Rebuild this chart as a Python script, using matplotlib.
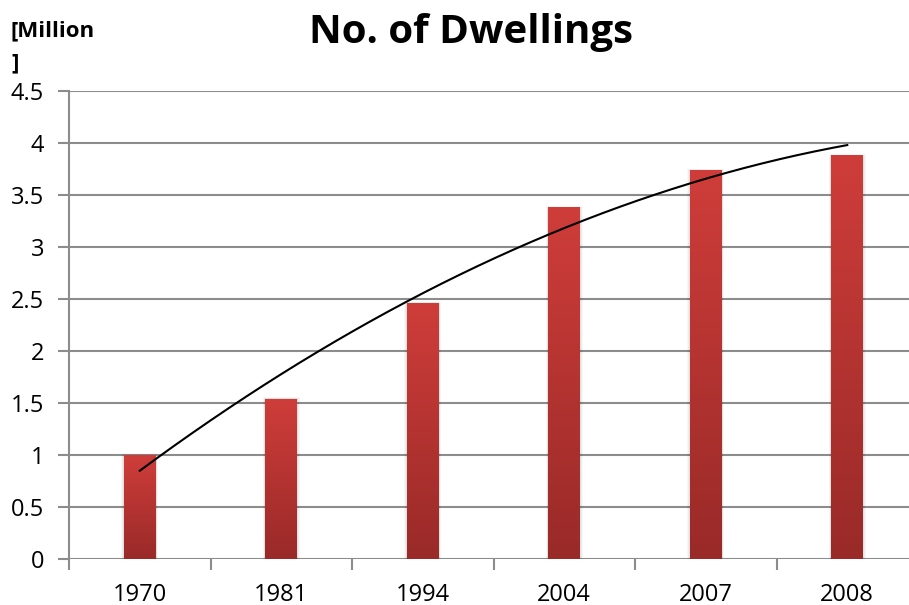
import numpy as np
import matplotlib
matplotlib.use("Agg")
import matplotlib.pyplot as plt
from matplotlib.colors import LinearSegmentedColormap
from matplotlib.patches import Rectangle

years = ["1970", "1981", "1994", "2004", "2007", "2008"]
dwellings = [1.0, 1.54, 2.46, 3.38, 3.74, 3.88]
y_ticks = [0, 0.5, 1, 1.5, 2, 2.5, 3, 3.5, 4, 4.5]
y_tick_labels = ["0", "0.5", "1", "1.5", "2", "2.5", "3", "3.5", "4", "4.5"]

plt.rcParams["font.family"] = ["Open Sans", "DejaVu Sans"]

W, H = 909, 605
fig = plt.figure(figsize=(W / 100, H / 100), dpi=100)
left, right, bottom, top = 69, 918, 559, 91
ax = fig.add_axes([left / W, 1 - bottom / H, (right - left) / W, (bottom - top) / H])

x = np.arange(len(years))
bar_w = 0.226
ax.set_xlim(-0.5, len(years) - 0.5)
ax.set_ylim(0, 4.5)

# gridlines
for t in y_ticks:
    ax.axhline(t, color="#8c8c8c", lw=1.5, zorder=1)

cmap = LinearSegmentedColormap.from_list("bar", ["#992a28", "#cf3d3a"])
grad = np.linspace(0, 1, 256).reshape(-1, 1)
for xi, v in zip(x, dwellings):
    # soft shadow
    for k, a in enumerate([0.05, 0.04, 0.03]):
        d = 0.006 * (k + 1)
        ax.add_patch(Rectangle((xi - bar_w / 2 - d, 0), bar_w + 2 * d, v + d * 4.5 / 6,
                               color="black", alpha=a, lw=0, zorder=1.5))
    rect = Rectangle((xi - bar_w / 2, 0), bar_w, v, facecolor="none", edgecolor="none", zorder=2)
    ax.add_patch(rect)
    im = ax.imshow(grad, cmap=cmap, aspect="auto", origin="lower",
                   extent=(xi - bar_w / 2, xi + bar_w / 2, 0, v), zorder=2)
    im.set_clip_path(rect)

# polynomial (order 2) trendline through the bar values
coef = np.polyfit(x + 1, dwellings, 2)
xs = np.linspace(0, len(years) - 1, 200)
ax.plot(xs, np.polyval(coef, xs + 1), color="black", lw=1.5, zorder=3)

ax.set_xlim(-0.5, len(years) - 0.5)
ax.set_ylim(0, 4.5)

ax.set_yticks(y_ticks)
ax.set_yticklabels(y_tick_labels)
ax.set_xticks(x)
ax.set_xticklabels(years)
ax.set_xticks(np.arange(len(years) + 1) - 0.5, minor=True)
ax.tick_params(axis="x", which="major", length=0, pad=17, labelsize=17)
ax.tick_params(axis="x", which="minor", length=8, width=1.5, color="#8c8c8c", direction="out")
ax.tick_params(axis="y", length=8, width=1.5, color="#8c8c8c", direction="out", pad=10, labelsize=17)

for s in ["top", "right", "bottom"]:
    ax.spines[s].set_visible(False)
ax.spines["left"].set_color("#8c8c8c")
ax.spines["left"].set_linewidth(1.5)

fig.text(471 / W, 1 - 32 / H, "No. of Dwellings", ha="center", va="center",
         fontsize=29, fontweight="bold")
fig.text(11 / W, 1 - 31 / H, "[Million", ha="left", va="center", fontsize=16, fontweight="bold")
fig.text(11 / W, 1 - 63 / H, "]", ha="left", va="center", fontsize=16, fontweight="bold")

fig.savefig("out.png", dpi=100)
